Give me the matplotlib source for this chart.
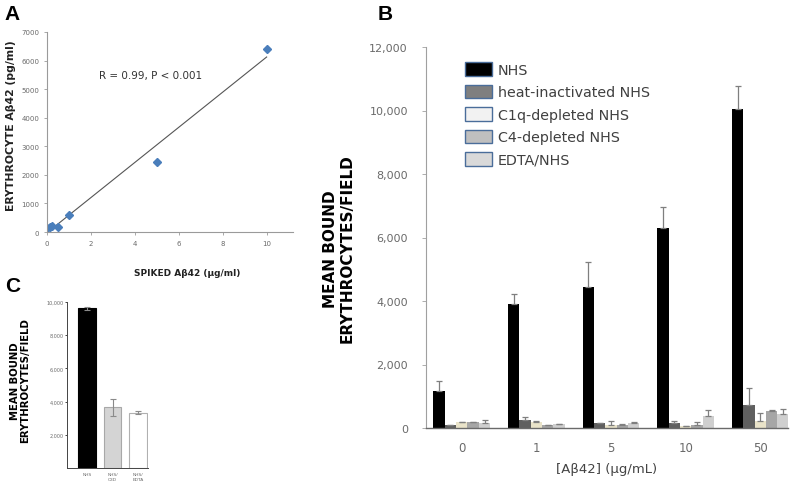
import numpy as np
import matplotlib
matplotlib.use("Agg")
import matplotlib.pyplot as plt

# ---------------- Data ----------------
# Panel A
spiked = [0, 0.15, 0.25, 0.5, 1, 5, 10]
measured = [150, 180, 220, 190, 600, 2460, 6420]

# Panel B
conc_labels = ["0", "1", "5", "10", "50"]
series_names = ["NHS", "heat-inactivated NHS", "C1q-depleted NHS", "C4-depleted NHS", "EDTA/NHS"]
nhs = [1180, 3920, 4430, 6290, 10060]
nhs_err = [310, 300, 800, 660, 700]
heat = [90, 260, 150, 160, 740]
heat_err = [20, 90, 20, 50, 510]
c1q = [180, 180, 110, 50, 220]
c1q_err = [20, 30, 100, 10, 250]
c4 = [180, 80, 110, 90, 540]
c4_err = [20, 10, 20, 100, 20]
edta = [150, 130, 150, 370, 430]
edta_err = [110, 10, 40, 190, 180]

# Panel C
c_labels = ["NHS", "NHS/\nC3D", "NHS/\nEDTA"]
c_vals = [9620, 3650, 3330]
c_err = [80, 530, 80]

# ---------------- Figure ----------------
W, H = 800, 489
fig = plt.figure(figsize=(8, 4.89), dpi=100)

def rect(x0, y0, x1, y1):
    return [x0 / W, 1 - y1 / H, (x1 - x0) / W, (y1 - y0) / H]

gray_txt = "#6a6a6a"

# ---- Panel A ----
axA = fig.add_axes(rect(47, 33, 293, 233))
axA.set_xlim(0, 11.2)
axA.set_ylim(0, 7000)
coef = np.polyfit(spiked, measured, 1)
xl = np.array([0.05, 10])
axA.plot(xl, np.polyval(coef, xl), color="#555555", lw=0.8)
axA.plot(spiked, measured, linestyle="none", marker="D", ms=4, color="#4a7ebb")
axA.set_xticks(range(0, 11, 2))
axA.set_yticks(range(0, 7001, 1000))
for s in ["top", "right"]:
    axA.spines[s].set_visible(False)
for s in ["left", "bottom"]:
    axA.spines[s].set_color("#9a9a9a")
    axA.spines[s].set_linewidth(0.8)
axA.tick_params(labelsize=5, colors="#9a9a9a", labelcolor=gray_txt, length=2, width=0.6)
axA.text(0.42, 0.785, "R = 0.99, P < 0.001", transform=axA.transAxes, ha="center",
         va="center", fontsize=7.5, color="#333333")
fig.text(11 / W, 1 - 126 / H, "ERYTHROCYTE Aβ42 (pg/ml)", rotation=90, ha="center",
         va="center", fontsize=7.8, fontweight="bold", color="#222222")
fig.text(187 / W, 1 - 274 / H, "SPIKED Aβ42 (μg/ml)", ha="center", va="center",
         fontsize=6.5, fontweight="bold", color="#222222")
fig.text(4 / W, 1 - 14 / H, "A", fontsize=15, fontweight="bold", ha="left", va="center",
         family="Liberation Sans")

# ---- Panel B ----
axB = fig.add_axes(rect(426, 48, 788, 429))
x = np.arange(len(conc_labels))
bw = 0.152
colors = ["#000000", "#5f5f5f", "#e9e3c9", "#a6a6a6", "#cfcfcf"]
vals = [nhs, heat, c1q, c4, edta]
errs = [nhs_err, heat_err, c1q_err, c4_err, edta_err]
for i, (v, e, c, n) in enumerate(zip(vals, errs, colors, series_names)):
    axB.bar(x + (i - 2) * bw, v, width=bw, color=c, label=n,
            yerr=[np.zeros(len(v)), e], ecolor="#7f7f7f",
            error_kw=dict(lw=0.9, capsize=2, capthick=0.9))
axB.set_xlim(-0.48, 4.37)
axB.set_ylim(0, 12000)
axB.set_xticks(x)
axB.set_xticklabels(conc_labels)
axB.set_yticks(range(0, 12001, 2000))
axB.set_yticklabels([f"{v:,}" for v in range(0, 12001, 2000)])
for s in ["top", "right"]:
    axB.spines[s].set_visible(False)
axB.spines["left"].set_color("#a0a0a0")
axB.spines["bottom"].set_color("#6a6a6a")
axB.spines["left"].set_linewidth(0.8)
axB.spines["bottom"].set_linewidth(1.0)
axB.tick_params(axis="y", labelsize=8, colors="#a0a0a0", labelcolor=gray_txt,
                length=3, width=0.6, pad=10)
axB.tick_params(axis="x", labelsize=8.5, labelcolor=gray_txt, length=0, pad=9)
axB.set_xlabel("[Aβ42] (μg/mL)", fontsize=9.5, color="#444444", labelpad=6)
fig.text(339 / W, 1 - 249 / H, "MEAN BOUND\nERYTHROCYTES/FIELD", rotation=90,
         ha="center", va="center", fontsize=11, fontweight="bold",
         family="DejaVu Sans", linespacing=1.1)
fig.text(378 / W, 1 - 14 / H, "B", fontsize=15, fontweight="bold", ha="left", va="center",
         family="Liberation Sans")
leg_colors = ["#000000", "#7f7f7f", "#f2f2f2", "#bfbfbf", "#d9d9d9"]
leg = axB.legend(loc="upper left", bbox_to_anchor=(0.093, 0.975), frameon=False,
                 fontsize=10.3, handlelength=1.85, handleheight=1.05, labelspacing=0.56,
                 handletextpad=0.4, borderaxespad=0)
for h, c in zip(leg.legend_handles, leg_colors):
    h.set_facecolor(c)
    h.set_edgecolor("#4a6d9a")
    h.set_linewidth(1.0)
for t in leg.get_texts():
    t.set_color("#404040")

# ---- Panel C ----
axC = fig.add_axes(rect(67, 303, 148, 469))
xc = np.arange(len(c_labels))
axC.bar(xc, c_vals, width=0.69, color=["#000000", "#d4d4d4", "#ffffff"],
        edgecolor=["#000000", "#a8a8a8", "#b0b0b0"], linewidth=0.8,
        yerr=c_err, ecolor="#8a8a8a", error_kw=dict(lw=0.8, capsize=2, capthick=0.8))
axC.set_xlim(-0.77, 2.38)
axC.set_ylim(0, 10000)
axC.set_yticks(range(2000, 10001, 2000))
axC.set_yticklabels([f"{v:,}" for v in range(2000, 10001, 2000)])
axC.set_xticks(xc)
axC.set_xticklabels(c_labels)
for s in ["top", "right"]:
    axC.spines[s].set_visible(False)
for s in ["left", "bottom"]:
    axC.spines[s].set_color("#444444")
    axC.spines[s].set_linewidth(0.7)
axC.tick_params(axis="y", labelsize=3.5, labelcolor=gray_txt, length=1.5, width=0.5, pad=1)
axC.tick_params(axis="x", labelsize=3.2, labelcolor=gray_txt, length=0, pad=3)
fig.text(20 / W, 1 - 381 / H, "MEAN BOUND\nERYTHROCYTES/FIELD", rotation=90,
         ha="center", va="center", fontsize=7.3, fontweight="bold",
         family="DejaVu Sans", linespacing=1.1)
fig.text(5 / W, 1 - 286 / H, "C", fontsize=15, fontweight="bold", ha="left", va="center",
         family="Liberation Sans")

fig.savefig("out.png", dpi=100)
